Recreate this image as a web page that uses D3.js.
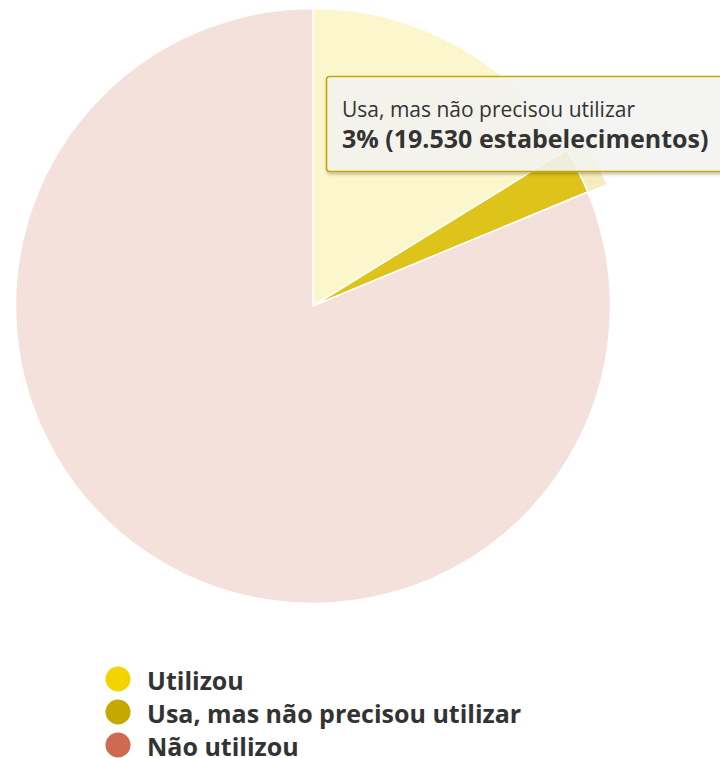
<!DOCTYPE html>
<html>
<head>
<meta charset="utf-8">
<script src="https://cdn.jsdelivr.net/npm/d3@7/dist/d3.min.js"></script>
<style>
  html, body { margin: 0; padding: 0; background: #fff; }
  svg { display: block; font-family: "Open Sans", sans-serif; }
</style>
</head>
<body>
<svg id="chart" width="720" height="758"></svg>
<script>
// Situação dos estabelecimentos (número de estabelecimentos)
const categories = ["Utilizou", "Usa, mas não precisou utilizar", "Não utilizou"];
const values = [125700, 19530, 629770];
const colors = ["#f2d400", "#c4a900", "#cf6a52"];
const highlighted = 1; // fatia em destaque (hover)

const W = 720, H = 758;
const cx = 313, cy = 306, R = 297.5;

const svg = d3.select("#chart");
const total = d3.sum(values);
const ptBR = d3.formatLocale({ decimal: ",", thousands: ".", grouping: [3], currency: ["R$", ""] });
const fmtInt = ptBR.format(",d");

const data = categories.map((c, i) => ({ name: c, value: values[i], color: colors[i], i }));

const pie = d3.pie().sort(null).value(d => d.value).startAngle(0).endAngle(2 * Math.PI);
const arcs = pie(data);
const arc = d3.arc().innerRadius(0).outerRadius(R);

const defs = svg.append("defs");
const shadow = defs.append("filter").attr("id", "tipShadow")
  .attr("x", "-5%").attr("y", "-10%").attr("width", "115%").attr("height", "130%");
shadow.append("feDropShadow").attr("dx", 1).attr("dy", 2).attr("stdDeviation", 1.4)
  .attr("flood-color", "#000").attr("flood-opacity", 0.28);

const g = svg.append("g").attr("transform", `translate(${cx},${cy})`);

// halo ao redor da fatia em destaque
const hp = arcs[highlighted];
const halo = d3.arc().innerRadius(R - 1).outerRadius(R + 20)
  .startAngle(hp.startAngle).endAngle(hp.endAngle);
g.append("path")
  .attr("d", halo())
  .attr("fill", d3.color(colors[highlighted]).brighter(0.25))
  .attr("fill-opacity", 0.25);

// fatias
function brighten(c, k) {
  const col = d3.rgb(c);
  return d3.rgb(col.r + 255 * k, col.g + 255 * k, col.b + 255 * k).formatHex();
}
g.selectAll("path.slice")
  .data(arcs)
  .join("path")
  .attr("class", "slice")
  .attr("d", arc)
  .attr("fill", d => d.index === highlighted ? brighten(d.data.color, 0.1) : d.data.color)
  .attr("fill-opacity", d => d.index === highlighted ? 1 : 0.2)
  .attr("stroke", "#fff")
  .attr("stroke-width", 1.5)
  .attr("stroke-linejoin", "round");

// tooltip
const hd = data[highlighted];
const pct = Math.round(hd.value / total * 100);
const tip = svg.append("g").attr("transform", "translate(326.5,76.5)");
tip.append("rect")
  .attr("width", 400).attr("height", 95)
  .attr("rx", 3).attr("ry", 3)
  .attr("fill", "rgba(247,247,245,0.86)")
  .attr("stroke", hd.color)
  .attr("stroke-width", 1.6)
  .attr("filter", "url(#tipShadow)");
tip.append("text")
  .attr("x", 15.5).attr("y", 40)
  .attr("font-size", 21)
  .attr("fill", "#333")
  .text(hd.name);
tip.append("text")
  .attr("x", 15.5).attr("y", 71.5)
  .attr("font-size", 25)
  .attr("font-weight", 700)
  .attr("fill", "#333")
  .text(`${pct}% (${fmtInt(hd.value)} estabelecimentos)`);

// legenda
const legend = svg.append("g").attr("transform", "translate(118,679)");
const items = legend.selectAll("g.item")
  .data(data)
  .join("g")
  .attr("class", "item")
  .attr("transform", (d, i) => `translate(0,${i * 33})`);
items.append("circle").attr("r", 12.5).attr("fill", d => d.color);
items.append("text")
  .attr("x", 29).attr("y", 11)
  .attr("font-size", 25)
  .attr("font-weight", 700)
  .attr("fill", "#333")
  .text(d => d.name);
</script>
</body>
</html>
